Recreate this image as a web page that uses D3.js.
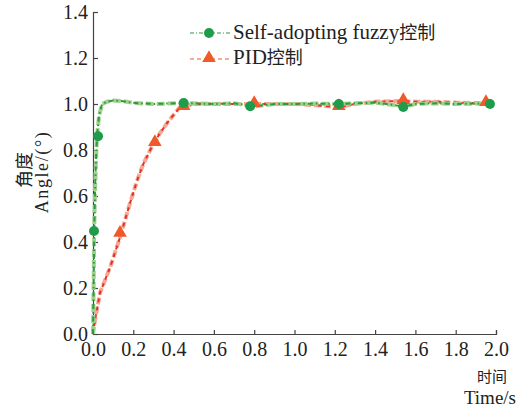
<!DOCTYPE html>
<html>
<head>
<meta charset="utf-8">
<script src="https://cdn.jsdelivr.net/npm/d3@7"></script>
<style>
  body { margin: 0; background: #fff; }
  text { fill: #222; }
</style>
</head>
<body>
<div id="chart-area"></div>
<script>
// data
var fuzzyT = [0, 0.003, 0.006, 0.01, 0.015, 0.02, 0.03, 0.045, 0.07, 0.1, 0.15, 0.2, 0.3, 0.45, 0.6, 0.7, 0.8, 0.9, 1.0, 1.1, 1.22, 1.3, 1.4, 1.5, 1.54, 1.6, 1.7, 1.8, 1.9, 1.98]
var fuzzyY = [0, 0.2, 0.45, 0.62, 0.76, 0.86, 0.95, 1.0, 1.01, 1.015, 1.012, 1.005, 1.0, 1.004, 1.0, 1.003, 0.99, 1.0, 1.0, 1.002, 1.0, 1.003, 1.006, 0.995, 0.988, 1.0, 1.003, 1.0, 1.002, 1.0]
var pidT = [0, 0.01, 0.035, 0.085, 0.134, 0.184, 0.22, 0.25, 0.29, 0.33, 0.37, 0.43, 0.5, 0.6, 0.7, 0.8, 0.9, 1.0, 1.1, 1.22, 1.3, 1.4, 1.54, 1.6, 1.7, 1.8, 1.9, 1.97]
var pidY = [0, 0.06, 0.18, 0.29, 0.42, 0.57, 0.67, 0.74, 0.81, 0.87, 0.92, 0.985, 1.0, 1.0, 1.0, 1.0, 1.0, 1.0, 0.995, 0.987, 1.0, 1.01, 1.013, 1.01, 1.01, 1.006, 1.004, 1.004]
var fuzzyMarkT = [0.005, 0.025, 0.45, 0.78, 1.22, 1.54, 1.97]
var fuzzyMarkY = [0.448, 0.86, 1.004, 0.99, 1.0, 0.987, 1.0]
var pidMarkT = [0.134, 0.307, 0.45, 0.8, 1.22, 1.54, 1.95]
var pidMarkY = [0.435, 0.83, 0.987, 1.0, 0.987, 1.013, 1.004]
var xTicks = [0, 0.2, 0.4, 0.6, 0.8, 1.0, 1.2, 1.4, 1.6, 1.8, 2.0]
var yTicks = [0, 0.2, 0.4, 0.6, 0.8, 1.0, 1.2, 1.4]
var seriesNames = ["Self-adopting fuzzy", "PID"]

var width = 517, height = 410
var serif = "'Liberation Serif', 'DejaVu Serif', Times, serif"
var cjk = "'Noto Sans CJK SC', sans-serif"

var svg = d3.select("#chart-area")
	.append("svg")
	.attr("width", width)
	.attr("height", height)

var x = d3.scaleLinear().domain([0, 2]).range([93, 496])
var y = d3.scaleLinear().domain([0, 1.4]).range([334, 12])

function pts(ts, vs) {
	return ts.map(function (t, i) { return [t, vs[i]] })
}
var line = d3.line()
	.x(function (d) { return x(d[0]) })
	.y(function (d) { return y(d[1]) })

// axes (ticks inward)
var bottomAxis = d3.axisBottom(x).tickValues(xTicks).tickSize(-4).tickPadding(8)
	.tickFormat(d3.format(".1f"))
var xg = svg.append("g")
	.attr("transform", "translate(0," + y(0) + ")")
	.call(bottomAxis)
var leftAxis = d3.axisLeft(y).tickValues(yTicks).tickSize(-5).tickPadding(5)
	.tickFormat(d3.format(".1f"))
var yg = svg.append("g")
	.attr("transform", "translate(" + x(0) + ",0)")
	.call(leftAxis)

;[xg, yg].forEach(function (g) {
	g.attr("font-family", serif).attr("font-size", 20)
	g.select(".domain").attr("stroke", "#444").attr("stroke-width", 1.2)
	g.selectAll(".tick line").attr("stroke", "#444").attr("stroke-width", 1.2)
	g.selectAll(".tick text").attr("fill", "#222")
})
xg.selectAll(".tick text").attr("dy", "0.72em")

// curves: light wide dashed band + darker dashed line on top
svg.append("path")
	.attr("d", line(pts(pidT, pidY)))
	.attr("fill", "none")
	.attr("stroke", "#f3a893")
	.attr("stroke-width", 4)
	.attr("stroke-dasharray", "7,3")
svg.append("path")
	.attr("d", line(pts(pidT, pidY)))
	.attr("fill", "none")
	.attr("stroke", "#e5312a")
	.attr("stroke-width", 2)
	.attr("stroke-dasharray", "4,4")

svg.append("path")
	.attr("d", line(pts(fuzzyT, fuzzyY)))
	.attr("fill", "none")
	.attr("stroke", "#9fd08c")
	.attr("stroke-width", 4)
	.attr("stroke-dasharray", "8,3")
svg.append("path")
	.attr("d", line(pts(fuzzyT, fuzzyY)))
	.attr("fill", "none")
	.attr("stroke", "#2c9a3e")
	.attr("stroke-width", 2)
	.attr("stroke-dasharray", "5,3,1.5,3")

// markers
var tri = d3.symbol().type(d3.symbolTriangle).size(80)
svg.selectAll(".pidm")
	.data(pts(pidMarkT, pidMarkY))
	.enter()
	.append("path")
	.attr("class", "pidm")
	.attr("d", tri)
	.attr("transform", function (d) { return "translate(" + x(d[0]) + "," + (y(d[1]) - 1) + ")" })
	.attr("fill", "#ef5a2a")

svg.selectAll(".fzm")
	.data(pts(fuzzyMarkT, fuzzyMarkY))
	.enter()
	.append("circle")
	.attr("class", "fzm")
	.attr("cx", function (d) { return x(d[0]) })
	.attr("cy", function (d) { return y(d[1]) })
	.attr("r", 5)
	.attr("fill", "#1f9b4c")

// legend
var leg = svg.append("g")
leg.append("line")
	.attr("x1", 190).attr("x2", 230).attr("y1", 33).attr("y2", 33)
	.attr("stroke", "#2c9a3e").attr("stroke-width", 1.2).attr("stroke-dasharray", "4,2,1,2")
leg.append("circle").attr("cx", 209).attr("cy", 33).attr("r", 5).attr("fill", "#1f9b4c")
leg.append("line")
	.attr("x1", 190).attr("x2", 230).attr("y1", 59).attr("y2", 59)
	.attr("stroke", "#ef5a2a").attr("stroke-width", 1.2).attr("stroke-dasharray", "4,3")
leg.append("path").attr("d", tri).attr("transform", "translate(209,58)").attr("fill", "#ef5a2a")

var t1 = leg.append("text").attr("x", 233).attr("y", 39)
	.attr("font-family", serif).attr("font-size", 21)
t1.append("tspan").text(seriesNames[0])
t1.append("tspan").attr("font-family", cjk).attr("font-size", 18).text("控制")
var t2 = leg.append("text").attr("x", 233).attr("y", 64)
	.attr("font-family", serif).attr("font-size", 21)
t2.append("tspan").text(seriesNames[1])
t2.append("tspan").attr("font-family", cjk).attr("font-size", 18).text("控制")

// axis titles
svg.append("text")
	.attr("transform", "translate(31,170) rotate(-90)")
	.attr("text-anchor", "middle")
	.attr("font-family", cjk)
	.attr("font-size", 18)
	.text("角度")
svg.append("text")
	.attr("transform", "translate(48,172) rotate(-90)")
	.attr("text-anchor", "middle")
	.attr("font-family", serif)
	.attr("font-size", 18)
	.attr("letter-spacing", 1.6)
	.text("Angle/(°)")
svg.append("text")
	.attr("x", 492).attr("y", 382)
	.attr("text-anchor", "middle")
	.attr("font-family", cjk)
	.attr("font-size", 15)
	.text("时间")
svg.append("text")
	.attr("x", 516).attr("y", 404)
	.attr("text-anchor", "end")
	.attr("font-family", serif)
	.attr("font-size", 19)
	.text("Time/s")
</script>
</body>
</html>
